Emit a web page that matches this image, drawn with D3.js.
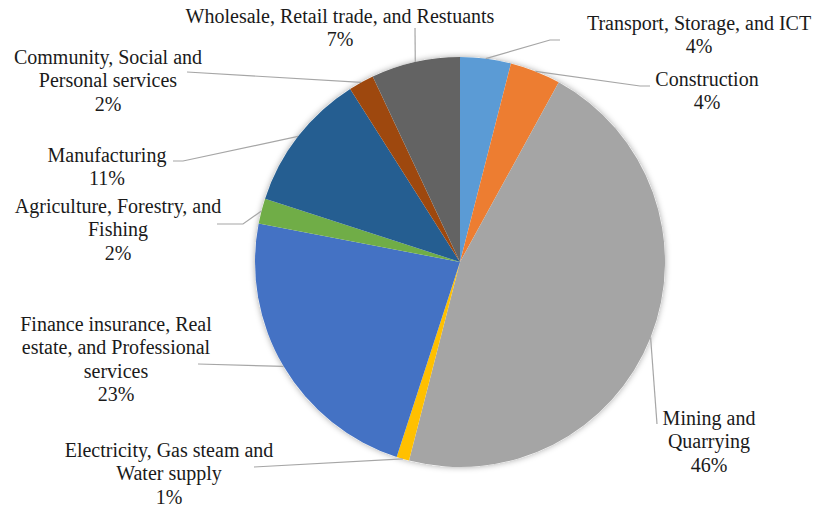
<!DOCTYPE html>
<html>
<head>
<meta charset="utf-8">
<script src="https://cdn.jsdelivr.net/npm/d3@7"></script>
<style>
  html, body { margin: 0; padding: 0; background: #ffffff; }
  svg { display: block; }
</style>
</head>
<body>
<svg id="chart" width="814" height="508"></svg>
<script>
// ---- data ----
const categories = [
  "Transport, Storage, and ICT",
  "Construction",
  "Mining and Quarrying",
  "Electricity, Gas steam and Water supply",
  "Finance insurance, Real estate, and Professional services",
  "Agriculture, Forestry, and Fishing",
  "Manufacturing",
  "Community, Social and Personal services",
  "Wholesale, Retail trade, and Restuants"
];
const values = [4, 4, 46, 1, 23, 2, 11, 2, 7];
const percentLabels = ["4%", "4%", "46%", "1%", "23%", "2%", "11%", "2%", "7%"];
const labelLines = [
  ["Transport, Storage, and ICT"],
  ["Construction"],
  ["Mining and", "Quarrying"],
  ["Electricity, Gas steam and", "Water supply"],
  ["Finance insurance, Real", "estate, and Professional", "services"],
  ["Agriculture, Forestry, and", "Fishing"],
  ["Manufacturing"],
  ["Community, Social and", "Personal services"],
  ["Wholesale, Retail trade, and Restuants"]
];
const colors = ["#5B9BD5", "#ED7D31", "#A5A5A5", "#FFC000", "#4472C4",
                "#70AD47", "#255E91", "#9E480E", "#636363"];

// ---- layout (label placement, not data) ----
const cx = 460, cy = 262, R = 205;
const lineH = 23.3;
const labelPos = [ // [center x, first baseline y]
  [699, 30], [707, 86], [709, 425], [169, 457], [116, 331],
  [118, 213], [107, 162], [108, 64], [340, 23]
];
const leaderTail = [ // points after the start point on the pie edge
  [[550, 40], [560, 40]],
  [[640, 86], [650, 86]],
  [[657, 424]],
  [[254, 467]],
  [[198, 364]],
  [[243, 224], [217, 224]],
  [[183, 161], [173, 161]],
  [[187, 72]],
  [[415, 28]]
];

const svg = d3.select("#chart");
const defs = svg.append("defs");
const f = defs.append("filter").attr("id", "shadow")
  .attr("x", "-10%").attr("y", "-10%").attr("width", "120%").attr("height", "120%");
f.append("feDropShadow").attr("dx", 0).attr("dy", 0).attr("stdDeviation", 3)
  .attr("flood-color", "#000").attr("flood-opacity", 0.35);

const pie = d3.pie().sort(null).value(d => d)(values);
const arc = d3.arc().innerRadius(0).outerRadius(R);

const g = svg.append("g").attr("transform", `translate(${cx},${cy})`);

// shadow layer
g.append("circle").attr("r", R).attr("fill", "#ffffff").attr("filter", "url(#shadow)");

g.selectAll("path.slice").data(pie).enter().append("path")
  .attr("class", "slice")
  .attr("d", arc)
  .attr("fill", (d, i) => colors[i]);

// leader lines
const line = d3.line();
pie.forEach((d, i) => {
  const a = (d.startAngle + d.endAngle) / 2;
  const start = [cx + R * Math.sin(a), cy - R * Math.cos(a)];
  const pts = [start].concat(leaderTail[i]);
  svg.append("path")
    .attr("d", line(pts))
    .attr("fill", "none")
    .attr("stroke", "#A6A6A6")
    .attr("stroke-width", 1.2);
});

// labels: one text element per line
labelLines.forEach((lines, i) => {
  const all = lines.concat([percentLabels[i]]);
  all.forEach((s, k) => {
    svg.append("text")
      .attr("x", labelPos[i][0])
      .attr("y", labelPos[i][1] + k * lineH)
      .attr("text-anchor", "middle")
      .attr("font-family", "Liberation Serif")
      .attr("font-size", 20)
      .attr("fill", "#1a1a1a")
      .text(s);
  });
});
</script>
</body>
</html>
